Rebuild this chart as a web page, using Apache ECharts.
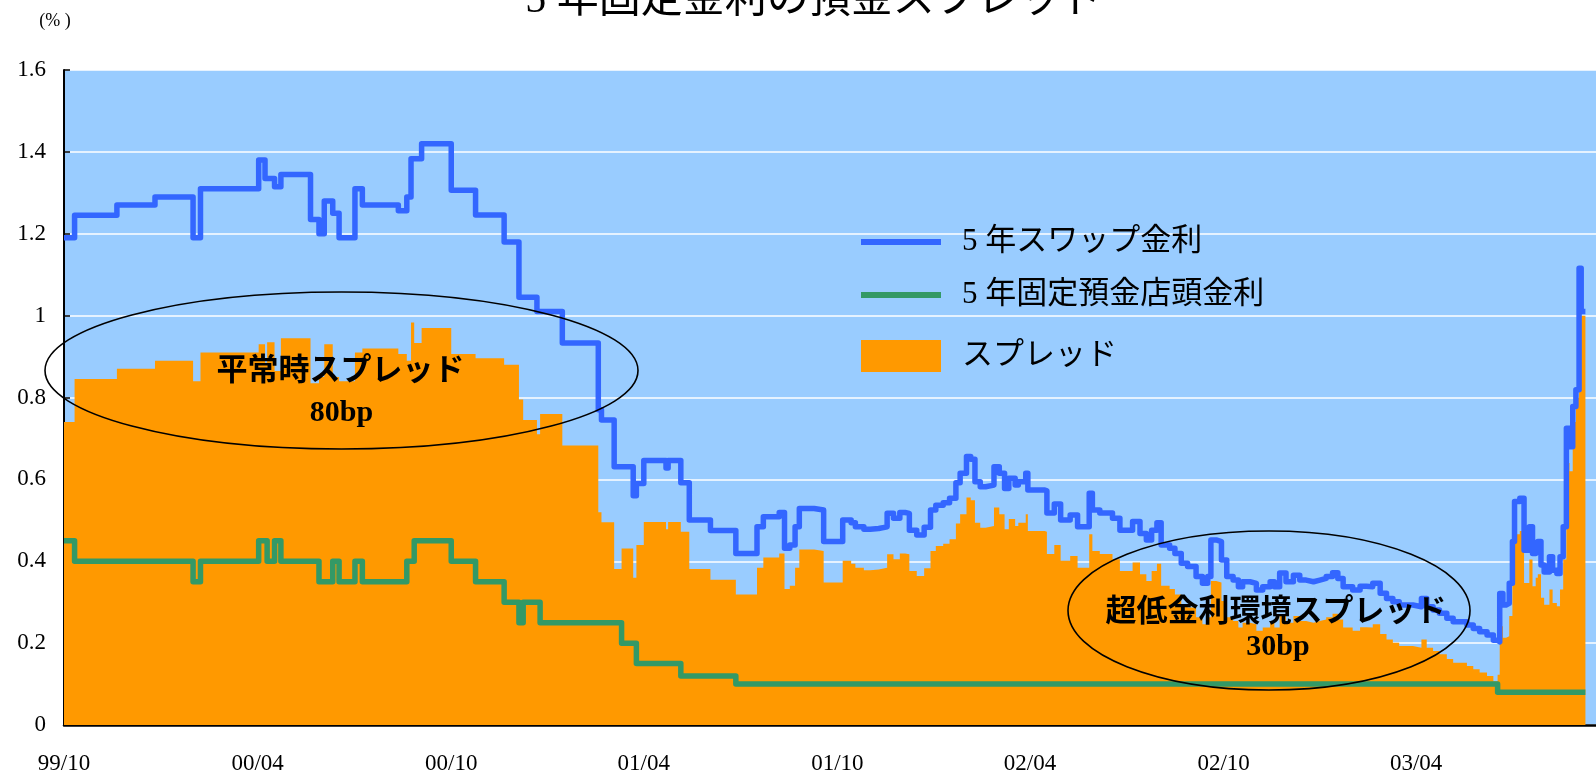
<!DOCTYPE html>
<html>
<head>
<meta charset="utf-8">
<script src="https://cdn.jsdelivr.net/npm/echarts@6/dist/echarts.min.js"></script>
<style>
  html, body { margin: 0; padding: 0; background: #ffffff; }
  #chart { width: 1596px; height: 775px; }
</style>
</head>
<body>
<div id="chart"></div>
<script>
// Dates at which either rate changes (each value holds until the next date)
const dates = [
  '1999-10-01','1999-10-11','1999-11-20','1999-12-26','2000-01-31','2000-02-07','2000-04-02','2000-04-08',
  '2000-04-10','2000-04-17','2000-04-23','2000-05-21','2000-05-29','2000-06-03','2000-06-11','2000-06-17',
  '2000-07-02','2000-07-09','2000-08-12','2000-08-20','2000-08-24','2000-08-27','2000-09-03','2000-10-01',
  '2000-10-24','2000-11-20','2000-12-04','2000-12-08','2000-12-21','2000-12-24','2001-01-14','2001-02-17',
  '2001-02-20','2001-03-04','2001-03-11','2001-03-22','2001-03-25','2001-04-01','2001-04-22','2001-04-24',
  '2001-05-06','2001-05-14','2001-06-03','2001-06-27','2001-07-17','2001-07-23','2001-08-07','2001-08-12',
  '2001-08-17','2001-08-22','2001-08-26','2001-09-09','2001-09-18','2001-10-06','2001-10-14','2001-10-18',
  '2001-10-26','2001-11-01','2001-11-09','2001-11-17','2001-11-23','2001-11-29','2001-12-04','2001-12-08',
  '2001-12-15','2001-12-22','2001-12-28','2002-01-02','2002-01-09','2002-01-15','2002-01-21','2002-01-25',
  '2002-01-31','2002-02-04','2002-02-08','2002-02-13','2002-02-18','2002-02-26','2002-03-03','2002-03-08',
  '2002-03-12','2002-03-18','2002-03-21','2002-03-28','2002-03-30','2002-04-15','2002-04-17','2002-04-24',
  '2002-04-30','2002-05-09','2002-05-16','2002-05-27','2002-05-30','2002-06-06','2002-06-18','2002-06-25',
  '2002-07-07','2002-07-14','2002-07-20','2002-07-25','2002-07-30','2002-08-03','2002-08-11','2002-08-16',
  '2002-08-22','2002-08-28','2002-09-05','2002-09-11','2002-09-16','2002-09-19','2002-09-24','2002-09-29',
  '2002-10-04','2002-10-10','2002-10-15','2002-10-19','2002-10-26','2002-11-01','2002-11-07','2002-11-14',
  '2002-11-18','2002-11-23','2002-11-29','2002-12-06','2002-12-12','2002-12-18','2002-12-25','2002-12-31',
  '2003-01-06','2003-01-12','2003-01-17','2003-01-22','2003-01-31','2003-02-07','2003-02-13','2003-02-19',
  '2003-02-26','2003-03-04','2003-03-10','2003-03-16','2003-03-29','2003-04-06','2003-04-11','2003-04-17',
  '2003-04-23','2003-04-30','2003-05-06','2003-05-19','2003-05-25','2003-05-31','2003-06-07','2003-06-13',
  '2003-06-17','2003-06-19','2003-06-22','2003-06-25','2003-06-28','2003-07-01','2003-07-03','2003-07-08',
  '2003-07-12','2003-07-17','2003-07-20','2003-07-23','2003-07-25','2003-07-28','2003-07-31','2003-08-05',
  '2003-08-08','2003-08-12','2003-08-15','2003-08-18','2003-08-21','2003-08-24','2003-08-27','2003-08-30',
  '2003-09-02','2003-09-04','2003-09-08'
];

// 5-year swap rate (%)
const swapRate = [
  1.19, 1.245, 1.27, 1.29, 1.19, 1.31, 1.38, 1.335,
  1.335, 1.315, 1.345, 1.235, 1.20, 1.28, 1.25, 1.19,
  1.31, 1.27, 1.256, 1.29, 1.383, 1.383, 1.42, 1.306,
  1.246, 1.18, 1.045, 1.045, 1.01, 1.01, 0.933, 0.77,
  0.745, 0.631, 0.631, 0.56, 0.59, 0.646, 0.628, 0.646,
  0.592, 0.501, 0.475, 0.419, 0.484, 0.509, 0.519, 0.432,
  0.44, 0.484, 0.529, 0.525, 0.448, 0.501, 0.494, 0.484,
  0.478, 0.48, 0.484, 0.517, 0.505, 0.519, 0.517, 0.476,
  0.464, 0.483, 0.525, 0.537, 0.543, 0.554, 0.592, 0.615,
  0.656, 0.649, 0.594, 0.582, 0.586, 0.631, 0.615, 0.578,
  0.603, 0.586, 0.594, 0.615, 0.574, 0.572, 0.518, 0.540,
  0.501, 0.513, 0.484, 0.566, 0.525, 0.518, 0.505, 0.476,
  0.497, 0.468, 0.452, 0.476, 0.494, 0.44, 0.432, 0.419,
  0.395, 0.387, 0.363, 0.346, 0.363, 0.452, 0.448, 0.403,
  0.363, 0.354, 0.338, 0.35, 0.346, 0.33, 0.338, 0.35,
  0.338, 0.371, 0.35, 0.366, 0.354, 0.35, 0.354, 0.358,
  0.363, 0.372, 0.358, 0.338, 0.33, 0.339, 0.338, 0.346,
  0.322, 0.309, 0.301, 0.293, 0.289, 0.309, 0.289, 0.281,
  0.273, 0.261, 0.252, 0.244, 0.236, 0.228, 0.22, 0.207,
  0.203, 0.321, 0.293, 0.297, 0.346, 0.448, 0.546, 0.554,
  0.427, 0.484, 0.419, 0.44, 0.448, 0.391, 0.374, 0.411,
  0.378, 0.37, 0.411, 0.484, 0.725, 0.68, 0.778, 0.819,
  1.116, 1.01, 1.01
];

// 5-year fixed-term deposit posted rate (%)
const depositRate = [
  0.45, 0.40, 0.40, 0.40, 0.35, 0.40, 0.45, 0.45,
  0.40, 0.45, 0.40, 0.40, 0.35, 0.35, 0.40, 0.35,
  0.40, 0.35, 0.35, 0.40, 0.40, 0.45, 0.45, 0.40,
  0.35, 0.30, 0.25, 0.30, 0.30, 0.25, 0.25, 0.25,
  0.25, 0.25, 0.20, 0.20, 0.15, 0.15, 0.15, 0.15,
  0.12, 0.12, 0.12, 0.10, 0.10, 0.10, 0.10, 0.10,
  0.10, 0.10, 0.10, 0.10, 0.10, 0.10, 0.10, 0.10,
  0.10, 0.10, 0.10, 0.10, 0.10, 0.10, 0.10, 0.10,
  0.10, 0.10, 0.10, 0.10, 0.10, 0.10, 0.10, 0.10,
  0.10, 0.10, 0.10, 0.10, 0.10, 0.10, 0.10, 0.10,
  0.10, 0.10, 0.10, 0.10, 0.10, 0.10, 0.10, 0.10,
  0.10, 0.10, 0.10, 0.10, 0.10, 0.10, 0.10, 0.10,
  0.10, 0.10, 0.10, 0.10, 0.10, 0.10, 0.10, 0.10,
  0.10, 0.10, 0.10, 0.10, 0.10, 0.10, 0.10, 0.10,
  0.10, 0.10, 0.10, 0.10, 0.10, 0.10, 0.10, 0.10,
  0.10, 0.10, 0.10, 0.10, 0.10, 0.10, 0.10, 0.10,
  0.10, 0.10, 0.10, 0.10, 0.10, 0.10, 0.10, 0.10,
  0.10, 0.10, 0.10, 0.10, 0.10, 0.10, 0.10, 0.10,
  0.10, 0.10, 0.10, 0.10, 0.10, 0.10, 0.10, 0.10,
  0.08, 0.08, 0.08, 0.08, 0.08, 0.08, 0.08, 0.08,
  0.08, 0.08, 0.08, 0.08, 0.08, 0.08, 0.08, 0.08,
  0.08, 0.08, 0.08, 0.08, 0.08, 0.08, 0.08, 0.08,
  0.08, 0.08, 0.08
];

// Spread between the two rates (%)
const spread = [
  0.74, 0.845, 0.87, 0.89, 0.84, 0.91, 0.93, 0.885,
  0.935, 0.865, 0.945, 0.835, 0.85, 0.93, 0.85, 0.84,
  0.91, 0.92, 0.906, 0.89, 0.983, 0.933, 0.97, 0.906,
  0.896, 0.88, 0.795, 0.745, 0.71, 0.76, 0.683, 0.52,
  0.495, 0.381, 0.431, 0.36, 0.44, 0.496, 0.478, 0.496,
  0.472, 0.381, 0.355, 0.319, 0.384, 0.409, 0.419, 0.332,
  0.34, 0.384, 0.429, 0.425, 0.348, 0.401, 0.394, 0.384,
  0.378, 0.38, 0.384, 0.417, 0.405, 0.419, 0.417, 0.376,
  0.364, 0.383, 0.425, 0.437, 0.443, 0.454, 0.492, 0.515,
  0.556, 0.549, 0.494, 0.482, 0.486, 0.531, 0.515, 0.478,
  0.503, 0.486, 0.494, 0.515, 0.474, 0.472, 0.418, 0.440,
  0.401, 0.413, 0.384, 0.466, 0.425, 0.418, 0.405, 0.376,
  0.397, 0.368, 0.352, 0.376, 0.394, 0.34, 0.332, 0.319,
  0.295, 0.287, 0.263, 0.246, 0.263, 0.352, 0.348, 0.303,
  0.263, 0.254, 0.238, 0.25, 0.246, 0.23, 0.238, 0.25,
  0.238, 0.271, 0.25, 0.266, 0.254, 0.25, 0.254, 0.258,
  0.263, 0.272, 0.258, 0.238, 0.23, 0.239, 0.238, 0.246,
  0.222, 0.209, 0.201, 0.193, 0.189, 0.209, 0.189, 0.181,
  0.173, 0.161, 0.152, 0.144, 0.136, 0.128, 0.12, 0.107,
  0.123, 0.241, 0.213, 0.217, 0.266, 0.368, 0.466, 0.474,
  0.347, 0.404, 0.339, 0.36, 0.368, 0.311, 0.294, 0.331,
  0.298, 0.29, 0.331, 0.404, 0.64, 0.62, 0.74, 0.80,
  0.98, 1.0, 1.0
];

const tickDates = ['1999-10-01','2000-04-01','2000-10-01','2001-04-01','2001-10-01','2002-04-01','2002-10-01','2003-04-01'];
const axisStart = '1999-10-01';
const axisEnd = '2003-09-18';

const seriesNames = ['5 年スワップ金利', '5 年固定預金店頭金利', 'スプレッド'];
const titleText = '5 年固定金利の預金スプレッド';
const unitText = '(% )';
const noteNormal = ['平常時スプレッド', '80bp'];
const noteLow = ['超低金利環境スプレッド', '30bp'];

const BLUE = '#3366FF';
const GREEN = '#339966';
const ORANGE = '#FF9900';
const PLOT_BG = '#99CCFF';
const SERIF = "'Liberation Serif', 'Times New Roman', serif";
const MIXED = "'Liberation Serif', 'Noto Sans CJK JP', sans-serif";
const GOTHIC = "'Noto Sans CJK JP', sans-serif";

// Dates are placed on a numeric axis as local-time milliseconds
function toTime(s) {
  const p = s.split('-').map(Number);
  return new Date(p[0], p[1] - 1, p[2]).getTime();
}
function pairs(values) {
  return dates.map((d, i) => [toTime(d), values[i]]);
}
const tickTimes = tickDates.map(toTime);

function fmtTick(v) {
  const d = new Date(v);
  return String(d.getFullYear()).slice(2) + '/' + String(d.getMonth() + 1).padStart(2, '0');
}

const chart = echarts.init(document.getElementById('chart'), null, { renderer: 'canvas' });

const legendCommon = {
  orient: 'horizontal',
  left: 861,
  padding: 0,
  itemGap: 0,
  selectedMode: false,
  itemWidth: 80,
  textStyle: {
    fontFamily: MIXED,
    fontSize: 31,
    color: '#000',
    lineHeight: 32,
    padding: [0, 0, 0, 16]
  }
};

chart.setOption({
  animation: false,
  backgroundColor: '#ffffff',
  grid: {
    left: 64, right: 0, top: 70, bottom: 50,
    show: true, backgroundColor: PLOT_BG, borderWidth: 0,
    outerBoundsMode: 'none'
  },
  xAxis: {
    type: 'value',
    min: toTime(axisStart),
    max: toTime(axisEnd),
    axisLine: { show: true, lineStyle: { color: '#000', width: 2.5 } },
    axisTick: { show: true, inside: true, length: 8, lineStyle: { color: '#000', width: 1.5 }, customValues: tickTimes },
    axisLabel: {
      customValues: tickTimes,
      formatter: fmtTick,
      color: '#000', fontFamily: SERIF, fontSize: 23, margin: 27,
      showMinLabel: true, showMaxLabel: true, hideOverlap: false
    },
    splitLine: { show: false }
  },
  yAxis: {
    type: 'value',
    min: 0, max: 1.6, interval: 0.2,
    axisLine: { show: true, lineStyle: { color: '#000', width: 2 } },
    axisTick: { show: true, inside: true, length: 6, lineStyle: { color: '#000', width: 1.5 } },
    axisLabel: { color: '#000', fontFamily: SERIF, fontSize: 23, margin: 18 },
    splitLine: { show: true, lineStyle: { color: '#ffffff', width: 1.5 } }
  },
  legend: [
    Object.assign({}, legendCommon, {
      top: 226, itemHeight: 6,
      data: [{ name: seriesNames[0], icon: 'rect', itemStyle: { color: BLUE, borderWidth: 0 } }]
    }),
    Object.assign({}, legendCommon, {
      top: 279, itemHeight: 6,
      data: [{ name: seriesNames[1], icon: 'rect', itemStyle: { color: GREEN, borderWidth: 0 } }]
    }),
    Object.assign({}, legendCommon, {
      top: 340, itemHeight: 32,
      data: [{ name: seriesNames[2], icon: 'rect', itemStyle: { color: ORANGE, borderWidth: 0 } }]
    })
  ],
  series: [
    {
      name: seriesNames[2],
      type: 'line',
      step: 'end',
      symbol: 'none',
      silent: true,
      z: 1,
      data: pairs(spread),
      itemStyle: { color: ORANGE },
      lineStyle: { width: 0, opacity: 0 },
      areaStyle: { color: ORANGE, opacity: 1 }
    },
    {
      name: seriesNames[1],
      type: 'line',
      step: 'end',
      symbol: 'none',
      silent: true,
      z: 3,
      data: pairs(depositRate),
      itemStyle: { color: GREEN },
      lineStyle: { color: GREEN, width: 5.5, join: 'round' }
    },
    {
      name: seriesNames[0],
      type: 'line',
      step: 'end',
      symbol: 'none',
      silent: true,
      z: 4,
      data: pairs(swapRate),
      itemStyle: { color: BLUE },
      lineStyle: { color: BLUE, width: 5.5, join: 'round' }
    }
  ],
  graphic: [
    {
      type: 'text', x: 814, y: 1, z: 100, silent: true,
      style: { text: titleText, fontFamily: MIXED, fontSize: 42, fill: '#000', align: 'center', verticalAlign: 'middle' }
    },
    {
      type: 'text', x: 55, y: 21, z: 100, silent: true,
      style: { text: unitText, fontFamily: SERIF, fontSize: 18, fill: '#000', align: 'center', verticalAlign: 'middle' }
    },
    {
      type: 'ellipse', z: 100, silent: true,
      shape: { cx: 341.5, cy: 370.5, rx: 296.5, ry: 78.5 },
      style: { fill: 'none', stroke: '#000', lineWidth: 1.6 }
    },
    {
      type: 'ellipse', z: 100, silent: true,
      shape: { cx: 1269, cy: 610.5, rx: 201, ry: 79.5 },
      style: { fill: 'none', stroke: '#000', lineWidth: 1.6 }
    },
    {
      type: 'text', x: 340.5, y: 368.5, z: 101, silent: true,
      style: { text: noteNormal[0], fontFamily: GOTHIC, fontWeight: 'bold', fontSize: 31, fill: '#000', align: 'center', verticalAlign: 'middle' }
    },
    {
      type: 'text', x: 341.5, y: 413, z: 101, silent: true,
      style: { text: noteNormal[1], fontFamily: SERIF, fontWeight: 'bold', fontSize: 30, fill: '#000', align: 'center', verticalAlign: 'middle' }
    },
    {
      type: 'text', x: 1276, y: 609, z: 101, silent: true,
      style: { text: noteLow[0], fontFamily: GOTHIC, fontWeight: 'bold', fontSize: 31, fill: '#000', align: 'center', verticalAlign: 'middle' }
    },
    {
      type: 'text', x: 1278, y: 647, z: 101, silent: true,
      style: { text: noteLow[1], fontFamily: SERIF, fontWeight: 'bold', fontSize: 30, fill: '#000', align: 'center', verticalAlign: 'middle' }
    }
  ]
});
</script>
</body>
</html>
